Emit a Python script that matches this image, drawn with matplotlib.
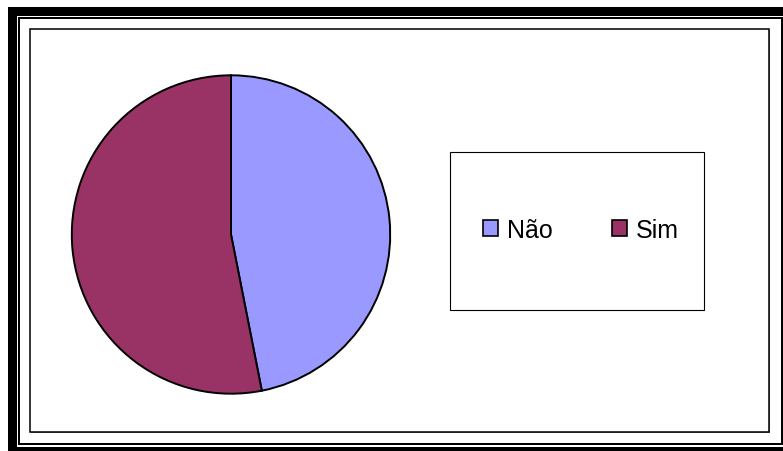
import matplotlib.pyplot as plt
from matplotlib.patches import Rectangle

labels = ['Não', 'Sim']
values = [46.9, 53.1]
colors = ['#9999FF', '#993366']

W, H = 783, 452
fig = plt.figure(figsize=(W / 100, H / 100), dpi=100)
plt.rcParams['font.family'] = ['Liberation Sans', 'DejaVu Sans']


def box(x0, y0, x1, y1, **kw):
    # pixel box measured from the top-left corner, kept behind the axes
    r = Rectangle((x0 / W, 1 - y1 / H), (x1 - x0) / W, (y1 - y0) / H,
                  transform=fig.transFigure, zorder=-1, **kw)
    fig.patches.append(r)
    return r


# double frame around the chart
box(8, 8, 800, 470, facecolor='black', edgecolor='none')
box(17, 17, 783, 448, facecolor='white', edgecolor='none')
box(18, 18, 782.5, 446, facecolor='black', edgecolor='none')
box(20, 20, 781, 444.3, facecolor='white', edgecolor='none')
box(31, 31, 770, 434, facecolor='#808080', edgecolor='none')
box(29.5, 29.5, 768.5, 432.5, facecolor='white', edgecolor='black', linewidth=1.1)

# legend frame
box(451, 154, 705, 312, facecolor='#808080', edgecolor='none')
box(450, 153, 703.5, 310.5, facecolor='white', edgecolor='black', linewidth=0.8)

ax = fig.add_axes([71 / W, 1 - 395.5 / H, 320 / W, 320 / H])
wedges, _ = ax.pie(values, colors=colors, startangle=90, counterclock=False,
                   wedgeprops=dict(edgecolor='black', linewidth=1.4))
ax.set_xlim(-1.005, 1.005)
ax.set_ylim(-1.005, 1.005)
ax.set_aspect('equal')
ax.axis('off')

leg = fig.legend(wedges, labels, loc='center', ncol=2,
                 bbox_to_anchor=(581 / W, 1 - 231 / H),
                 frameon=False, fontsize=18,
                 handlelength=0.58, handleheight=0.58,
                 handletextpad=0.35, columnspacing=2.4)
for h in leg.legend_handles:
    h.set_linewidth(1.2)
    h.set_edgecolor('black')

fig.savefig('out.png', dpi=100)
